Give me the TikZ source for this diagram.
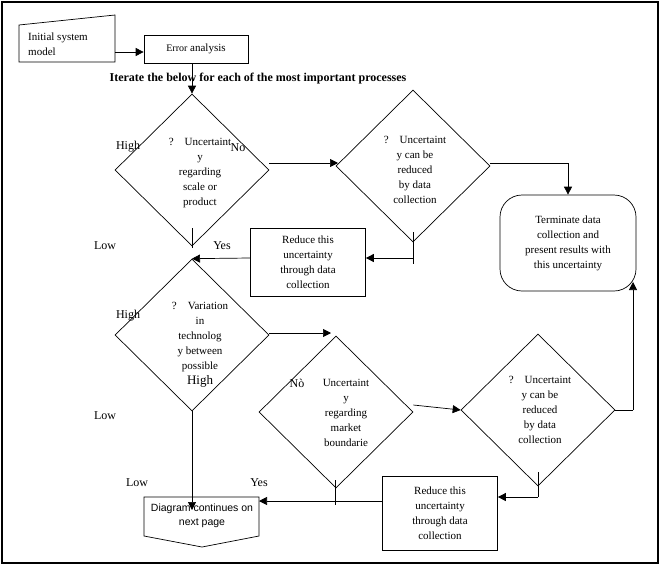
\documentclass[tikz,border=0pt]{standalone}
\usepackage{fontspec}
\setmainfont{Liberation Serif}
\setsansfont{Liberation Sans}
\usetikzlibrary{shapes.geometric,shapes.symbols,arrows.meta}
\tikzset{
  dec/.style={diamond, draw, inner sep=0pt, minimum width=154pt, minimum height=152pt},
  dtext/.style={align=center, font=\fontsize{11}{15}\selectfont},
  boxnode/.style={draw, align=center, font=\fontsize{11}{15}\selectfont},
  lbl/.style={font=\fontsize{12}{14}\selectfont},
  flow/.style={-{Triangle[length=8pt,width=8pt]}}
}
\begin{document}
\begin{tikzpicture}[x=1pt, y=-1pt, line width=0.7pt]
% Frame
	\useasboundingbox (0,0) rectangle (660,565);
	\draw[line width=2pt] (2,2) rectangle (658,563);
% Start
	\draw (19,25) -- (115,15) -- (115,62) -- (19,62) -- cycle;
	\node[align=left, font=\fontsize{11}{15}\selectfont] (init) at (58,44) {Initial system\\model};
	\coordinate (initR) at (115,52);
	\node[boxnode, minimum width=104pt, minimum height=28pt] (err) at (196,49) {{\fontsize{10}{12}\selectfont Error} analysis};
	\node[font=\bfseries\fontsize{12}{14}\selectfont] (iter) at (258,79) {Iterate the below for each of the most important processes};
% Decisions
	\node[dec] (d1) at (192,170) {};
	\node[dtext] (t1) at (200,173) {?\quad Uncertaint\\y\\regarding\\scale or\\product};
	\node[dec] (d2) at (413,166) {};
	\node[dtext] (t2) at (415,170) {?\quad Uncertaint\\y can be\\reduced\\by data\\collection};
	\node[dec] (d3) at (192,335) {};
	\node[dtext] (t3) at (200,345) {?\quad Variation\\in\\technolog\\y between\\possible\\{\fontsize{13}{15}\selectfont High}};
	\node[dec] (d4) at (336,412) {};
	\node[dtext] (t4) at (346,413) {Uncertaint\\y\\regarding\\market\\boundarie};
	\node[dec] (d5) at (538,410) {};
	\node[dtext] (t5) at (540,410) {?\quad Uncertaint\\y can be\\reduced\\by data\\collection};
% Boxes
	\node[boxnode, minimum width=115pt, minimum height=68pt] (red1) at (308,262) {Reduce this\\uncertainty\\through data\\collection};
	\node[boxnode, minimum width=115pt, minimum height=74pt] (red2) at (440,513) {Reduce this\\uncertainty\\through data\\collection};
	\node[draw, rounded corners=22pt, minimum width=136pt, minimum height=96pt, align=center,
	  font=\fontsize{11}{15}\selectfont] (term) at (568,243) {Terminate data\\collection and\\present results with\\this uncertainty};
	\draw (144,497) -- (259,497) -- (259,536) -- (202,547) -- (144,536) -- cycle;
	\node[align=center, font=\sffamily\fontsize{10.5}{14}\selectfont] (cont) at (202,516) {Diagram continues on\\next page};
	\coordinate (contT) at (192,497);
	\coordinate (contR) at (259,501);
% Labels
	\node[lbl] at (128,147) {High};
	\node[lbl] at (238,148) {No};
	\node[lbl] at (105,246) {Low};
	\node[lbl] at (222,246) {Yes};
	\node[lbl] at (128,316) {High};
	\node[lbl] at (105,416) {Low};
	\node[lbl] at (297,383) {N\`o};
	\node[lbl] at (137,483) {Low};
	\node[lbl] at (259,483) {Yes};
% Connectors
	\draw[flow] (initR) -- (err.west |- initR);
	\draw[flow] (err.south -| d1.north) -- (d1.north);
	\draw[flow] (d1.east |- 0,163) -- (338,163);
	\draw[flow] (d2.east |- 0,163) -- (568,163) -- (term.north -| 568,0);
	\draw (413,232) -- (413,264);
	\draw[flow] (413,258) -- (red1.east |- 0,258);
	\draw (192,228) -- (192,248);
	\draw[flow] (red1.west |- 0,258) -- (d3.north);
	\draw[flow] (d3.east |- 0,333) -- (331,333);
	\draw[flow] (d4.east |- 0,405) -- (d5.west);
	\draw (d5.east) -- (633,410);
	\draw[flow] (633,410) -- (633,282);
	\draw (538,472) -- (538,497);
	\draw[flow] (538,497) -- (red2.east |- 0,497);
	\draw (335,480) -- (335,505);
	\draw[flow] (red2.west |- 0,501) -- (contR);
	\draw[flow] (d3.south) -- (192,510);
\end{tikzpicture}
\end{document}
